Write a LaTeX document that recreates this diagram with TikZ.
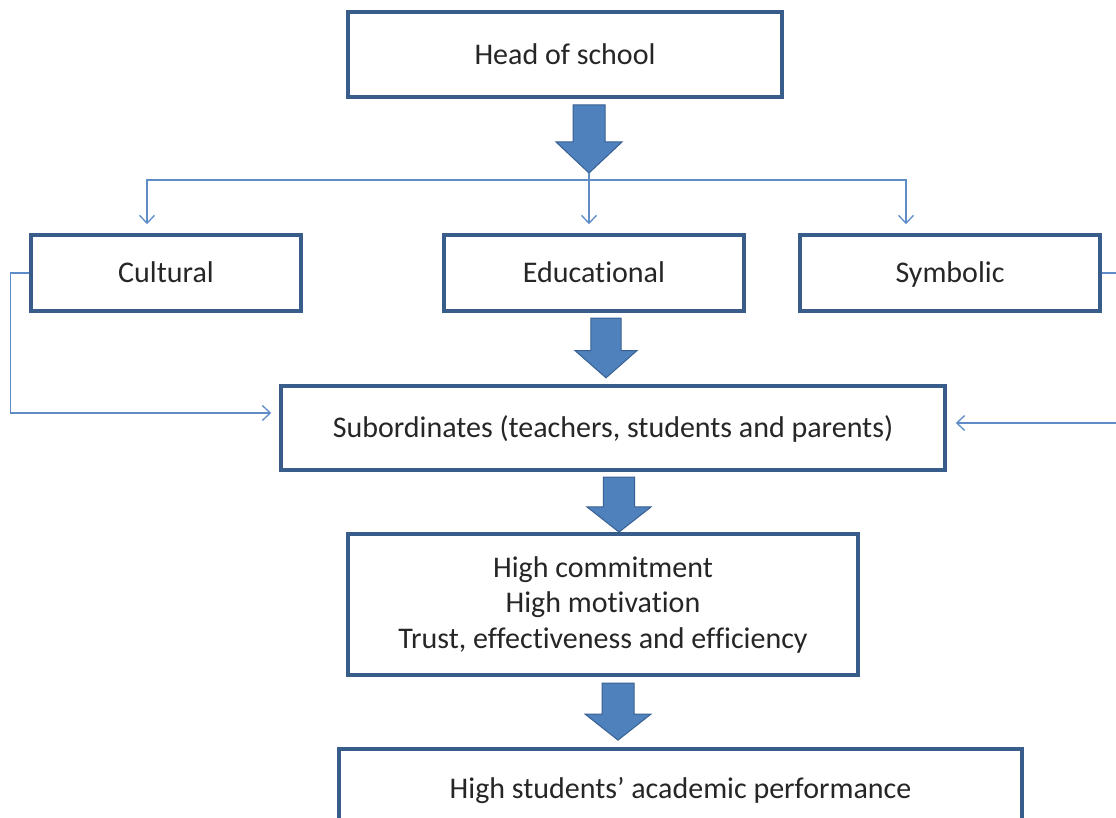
\documentclass[tikz,border=0pt]{standalone}
\usepackage{fontspec}
\setmainfont{Carlito}[RawFeature=-liga]
\usetikzlibrary{positioning,arrows.meta}
\definecolor{boxblue}{RGB}{56,93,138}
\definecolor{fillblue}{RGB}{79,129,189}
\definecolor{edgeblue}{RGB}{56,96,146}
\definecolor{lineblue}{RGB}{95,140,198}
\definecolor{txtgray}{RGB}{38,38,38}

\begin{document}
\begin{tikzpicture}[x=1pt,y=1pt, font=\fontsize{30}{35.5}\selectfont, text=txtgray,
  blk/.style={draw=boxblue,line width=3.5pt,fill=white,align=center,inner sep=0pt},
  one/.style={blk,text height=19.5pt,text depth=0pt},
  link/.style={draw=lineblue,line width=1.3pt,-{Straight Barb[length=8pt,width=15pt]}},
  fat/.pic={\filldraw[fill=fillblue,draw=edgeblue,line width=1pt]
    (-16,0) -- (16,0) -- (16,-37) -- (33,-37) -- (0,-68) -- (-33,-37) -- (-16,-37) -- cycle;}]
  \useasboundingbox (0,0) rectangle (1116,-818);
  \node[one,minimum width=434pt,minimum height=85pt](head) at (565,-54.5){Head of school};
  \pic at (589,-105) {fat};
  \coordinate (tip) at (589,-173);
  \coordinate (fork) at (589,-180);
  \node[one,minimum width=270pt,minimum height=76pt](cult) at (166,-273){Cultural};
  \node[one,minimum width=300pt,minimum height=76pt](edu) at (594,-273){Educational};
  \node[one,minimum width=300pt,minimum height=76pt](sym) at (950,-273){Symbolic};
  \draw[draw=lineblue,line width=1.3pt] (tip) -- (fork);
  \draw[link,shorten >=9pt] (fork) -| ([xshift=-19pt]cult.north);
  \draw[link,shorten >=9pt] (fork) -- ([xshift=-5pt]edu.north);
  \draw[link,shorten >=9pt] (fork) -| ([xshift=-44pt]sym.north);
  \pic[yscale=0.88,xscale=0.94] at (606,-318) {fat};
  \node[one,minimum width=664pt,minimum height=84pt](sub) at (613,-428)
    {Subordinates (teachers, students and parents)};
  \draw[link,shorten >=8pt] (cult.west) -- ++(-19,0) |- ([yshift=15pt]sub.west);
  \draw[link,shorten >=9pt] (sym.east) -- ++(40,0) |- ([yshift=5pt]sub.east);
  \pic[yscale=0.81,xscale=0.97] at (619,-477) {fat};
  \node[blk,minimum width=510pt,minimum height=141pt](res) at (603,-604.5)
    {High commitment\\High motivation\\Trust, effectiveness and efficiency};
  \pic[yscale=0.84] at (618,-683) {fat};
  \node[one,minimum width=683pt,minimum height=80pt](perf) at (680.5,-789)
    {High students’ academic performance};
\end{tikzpicture}
\end{document}
